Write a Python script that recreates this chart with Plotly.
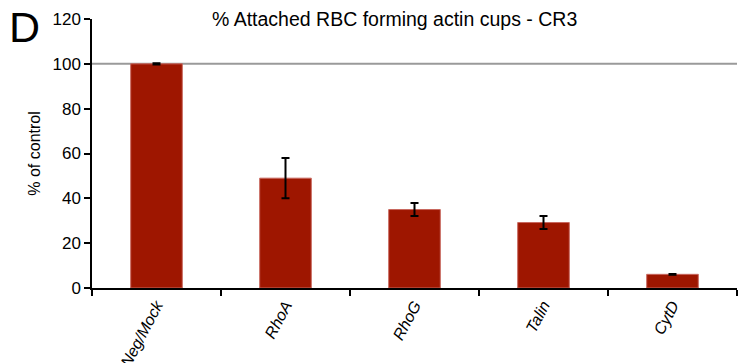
import plotly.graph_objects as go

categories = ["Neg/Mock", "RhoA", "RhoG", "Talin", "CytD"]
values = [100, 49, 35, 29.2, 6.1]
errors = [0.3, 9, 2.9, 2.9, 0.2]
y_ticks = [0, 20, 40, 60, 80, 100, 120]
reference_level = 100

FONT = "Liberation Sans, Arial, Helvetica, sans-serif"

fig = go.Figure()
fig.add_trace(go.Bar(
    x=categories,
    y=values,
    marker=dict(color="#9e1600", line=dict(color="#c8685e", width=1)),
    width=0.4,
    error_y=dict(type="data", array=errors, visible=True,
                 color="black", thickness=2, width=4),
))

fig.add_shape(type="line", xref="paper", yref="y",
              x0=0, x1=1, y0=reference_level, y1=reference_level,
              line=dict(color="#9a9a9a", width=2), layer="below")

fig.update_layout(
    width=741, height=363,
    margin=dict(l=92, r=4, t=19, b=75),
    plot_bgcolor="white", paper_bgcolor="white",
    showlegend=False,
    font=dict(family=FONT, color="black"),
    annotations=[
        dict(text="% Attached RBC forming actin cups - CR3", xref="paper", yref="paper",
             x=0.5, y=1.0, xanchor="center", yanchor="middle", yshift=0, xshift=-20,
             showarrow=False, font=dict(size=19.5, family=FONT)),
        dict(text="D", xref="paper", yref="paper", x=0, y=1,
             xshift=-85, yshift=18, xanchor="left", yanchor="top",
             showarrow=False, font=dict(size=43, family=FONT)),
    ],
)

fig.update_xaxes(
    type="category", range=[-0.5, 4.5], automargin=False,
    showline=True, linecolor="black", linewidth=1.5,
    ticks="outside", tickson="boundaries", ticklen=6, tickwidth=1.5, tickcolor="black",
    tickangle=-62, tickfont=dict(size=16, family=FONT, style="italic"),
    showgrid=False,
)
fig.update_yaxes(
    range=[0, 120], tickvals=y_ticks, automargin=False,
    showline=True, linecolor="black", linewidth=1.5,
    ticks="outside", ticklen=6, tickwidth=1.5, tickcolor="black",
    tickfont=dict(size=17, family=FONT),
    title=dict(text="% of control", font=dict(size=16, family=FONT), standoff=8),
    showgrid=False, zeroline=False,
)

fig.write_html("out.html")
